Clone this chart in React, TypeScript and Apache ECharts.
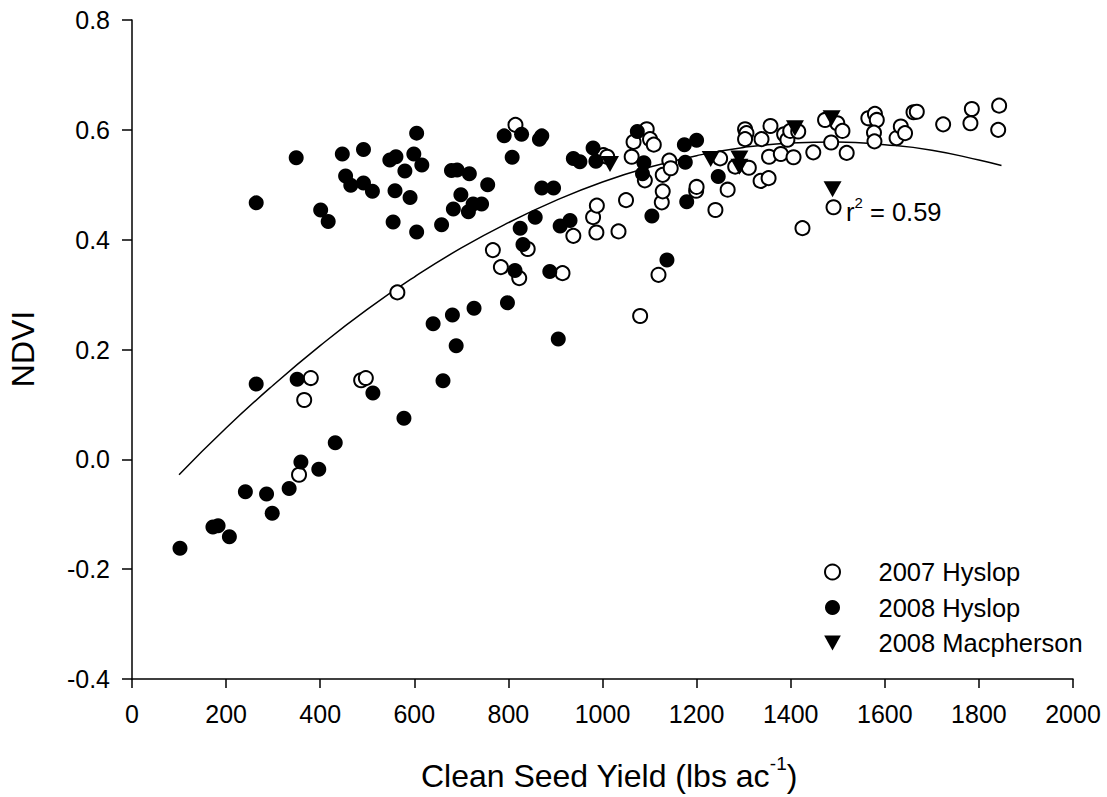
import React, { useEffect, useRef } from "react";
import * as echarts from "echarts";

const xTicksMin = 0;
const xTicksMax = 2000;
const yTicksMin = -0.4;
const yTicksMax = 0.8;

const seriesNames = ["2007 Hyslop", "2008 Hyslop", "2008 Macpherson"];

const hyslop2007: number[][] = [
  [355, -0.028], [366, 0.108], [380, 0.148], [487, 0.144], [497, 0.148], [564, 0.304],
  [767, 0.381], [784, 0.35], [815, 0.609], [823, 0.33], [841, 0.383], [915, 0.339], [938, 0.407],
  [980, 0.441], [987, 0.413], [988, 0.462], [1002, 0.554], [1010, 0.551], [1034, 0.415], [1050, 0.472],
  [1062, 0.551], [1066, 0.578], [1080, 0.261], [1090, 0.508], [1094, 0.601], [1101, 0.583], [1109, 0.573],
  [1119, 0.336], [1126, 0.468], [1128, 0.488], [1128, 0.518], [1142, 0.544], [1145, 0.53],
  [1199, 0.489], [1200, 0.496], [1240, 0.454], [1250, 0.548], [1266, 0.491], [1282, 0.533], [1311, 0.531],
  [1303, 0.601], [1306, 0.594], [1303, 0.583], [1338, 0.583], [1357, 0.607], [1354, 0.551], [1379, 0.556], [1406, 0.55],
  [1336, 0.507], [1353, 0.512], [1386, 0.592], [1393, 0.582], [1399, 0.598], [1416, 0.597], [1448, 0.559], [1425, 0.421],
  [1473, 0.618], [1499, 0.612], [1510, 0.598], [1486, 0.577], [1519, 0.558], [1491, 0.459],
  [1565, 0.621], [1579, 0.629], [1583, 0.618], [1577, 0.595], [1578, 0.579], [1625, 0.585], [1634, 0.606], [1643, 0.594],
  [1661, 0.632], [1668, 0.633], [1724, 0.61], [1785, 0.638], [1782, 0.612], [1843, 0.644], [1841, 0.6],
];

const hyslop2008: number[][] = [
  [102, -0.162], [172, -0.123], [183, -0.121], [207, -0.141], [241, -0.059], [286, -0.063], [298, -0.098],
  [334, -0.053], [359, -0.005], [397, -0.018], [432, 0.03],
  [264, 0.137], [351, 0.146], [512, 0.121], [578, 0.075], [661, 0.143],
  [264, 0.467], [349, 0.549],
  [447, 0.556], [492, 0.564], [454, 0.516], [465, 0.499], [492, 0.503], [511, 0.488], [548, 0.545], [561, 0.551],
  [599, 0.556], [605, 0.594], [616, 0.536], [580, 0.525], [559, 0.489], [591, 0.477], [401, 0.454], [417, 0.433],
  [555, 0.432], [605, 0.414], [658, 0.427], [679, 0.526], [691, 0.527], [717, 0.52], [756, 0.5], [699, 0.482],
  [683, 0.456], [715, 0.451], [725, 0.465], [743, 0.465],
  [791, 0.589], [828, 0.592], [866, 0.583], [871, 0.589], [808, 0.55], [938, 0.548], [952, 0.542], [980, 0.567],
  [986, 0.543], [871, 0.494], [896, 0.494], [857, 0.441], [825, 0.421], [831, 0.391], [910, 0.425], [931, 0.435],
  [814, 0.344], [888, 0.342],
  [640, 0.247], [681, 0.263], [727, 0.275], [798, 0.285], [689, 0.207], [906, 0.219],
  [1074, 0.597], [1088, 0.54], [1085, 0.52], [1105, 0.443], [1137, 0.363], [1174, 0.573], [1200, 0.581],
  [1176, 0.541], [1246, 0.515], [1179, 0.469],
];

const macpherson2008: number[][] = [
  [1016, 0.538], [1230, 0.547], [1291, 0.548], [1291, 0.533], [1409, 0.603], [1487, 0.621], [1489, 0.492],
];

const fitX = [100, 200, 300, 400, 500, 600, 700, 800, 900, 1000, 1100, 1200, 1300, 1400, 1500, 1600, 1700, 1800, 1848];
const fitY = [-0.028, 0.057, 0.135, 0.207, 0.273, 0.332, 0.385, 0.431, 0.471, 0.505, 0.532, 0.553, 0.568, 0.576, 0.578, 0.573, 0.563, 0.545, 0.535];

const FONT = "'Liberation Sans', Arial, Helvetica, sans-serif";
const TRI = "path://M0,0 L10,0 L5,9 Z";

export default function App() {
  const ref = useRef<HTMLDivElement>(null);
  useEffect(() => {
    if (!ref.current) return;
    const chart = echarts.init(ref.current, undefined, { renderer: "svg" });
    chart.setOption({
      animation: false,
      backgroundColor: "#ffffff",
      textStyle: { fontFamily: FONT },
      grid: { left: 132, right: 34, top: 20, bottom: 118, containLabel: false },
      legend: {
        orient: "vertical",
        left: 819,
        top: 554,
        itemWidth: 82,
        itemHeight: 15,
        itemGap: 9.5,
        data: seriesNames,
        textStyle: { fontSize: 25.5, color: "#000", fontFamily: FONT, lineHeight: 25.5 },
        selectedMode: false,
      },
      xAxis: {
        type: "value",
        min: xTicksMin,
        max: xTicksMax,
        interval: 200,
        axisLine: { show: true, onZero: false, lineStyle: { color: "#000", width: 1.5 } },
        axisTick: { show: true, inside: false, length: 9, lineStyle: { color: "#000", width: 1.5 } },
        axisLabel: { fontSize: 25, color: "#000", margin: 22, fontFamily: FONT, formatter: (v: number) => String(v) },
        splitLine: { show: false },
      },
      yAxis: {
        type: "value",
        min: yTicksMin,
        max: yTicksMax,
        interval: 0.2,
        axisLine: { show: true, onZero: false, lineStyle: { color: "#000", width: 1.5 } },
        axisTick: { show: true, inside: false, length: 10, lineStyle: { color: "#000", width: 1.5 } },
        axisLabel: {
          fontSize: 25,
          color: "#000",
          margin: 22,
          fontFamily: FONT,
          formatter: (v: number) => (Math.abs(v) < 1e-9 ? "0.0" : v.toFixed(1)),
        },
        splitLine: { show: false },
      },
      graphic: [
        {
          type: "text",
          x: 609,
          y: 773,
          style: {
            text: "{a|Clean Seed Yield (lbs ac}{s|-1}{a|)}",
            align: "center",
            verticalAlign: "middle",
            rich: {
              a: { fontSize: 32, fontFamily: FONT, fill: "#000", verticalAlign: "bottom", lineHeight: 38 },
              s: { fontSize: 19, fontFamily: FONT, fill: "#000", verticalAlign: "top", lineHeight: 38, padding: [0, 0, 15, 0] },
            },
          },
        },
        {
          type: "text",
          x: 23,
          y: 349,
          rotation: Math.PI / 2,
          style: {
            text: "NDVI",
            fontSize: 32,
            fontFamily: FONT,
            fill: "#000",
            align: "center",
            verticalAlign: "middle",
          },
        },
        {
          type: "text",
          x: 846,
          y: 195,
          style: {
            text: "{a|r}{s|2}{a| = 0.59}",
            rich: {
              a: { fontSize: 25.5, fontFamily: FONT, fill: "#000", verticalAlign: "bottom", lineHeight: 30 },
              s: { fontSize: 15, fontFamily: FONT, fill: "#000", verticalAlign: "top", lineHeight: 30, padding: [0, 0, 12, 0] },
            },
          },
        },
      ],
      series: [
        {
          name: "fit",
          type: "line",
          data: fitX.map((x, i) => [x, fitY[i]]),
          smooth: true,
          showSymbol: false,
          symbol: "none",
          lineStyle: { color: "#000", width: 1.5 },
          z: 1,
          silent: true,
        },
        {
          name: seriesNames[0],
          type: "scatter",
          data: hyslop2007,
          symbol: "circle",
          symbolSize: 14,
          itemStyle: { color: "#ffffff", borderColor: "#000", borderWidth: 2, opacity: 1 },
          z: 2,
        },
        {
          name: seriesNames[1],
          type: "scatter",
          data: hyslop2008,
          symbol: "circle",
          symbolSize: 15,
          itemStyle: { color: "#000", borderColor: "#000", borderWidth: 0, opacity: 1 },
          z: 3,
        },
        {
          name: seriesNames[2],
          type: "scatter",
          data: macpherson2008,
          symbol: TRI,
          symbolSize: [18, 16],
          itemStyle: { color: "#000", opacity: 1 },
          z: 4,
        },
      ],
    });
    return () => chart.dispose();
  }, []);
  return (
    <div
      ref={ref}
      style={{ position: "absolute", left: 0, top: 0, width: 1107, height: 797 }}
    />
  );
}
